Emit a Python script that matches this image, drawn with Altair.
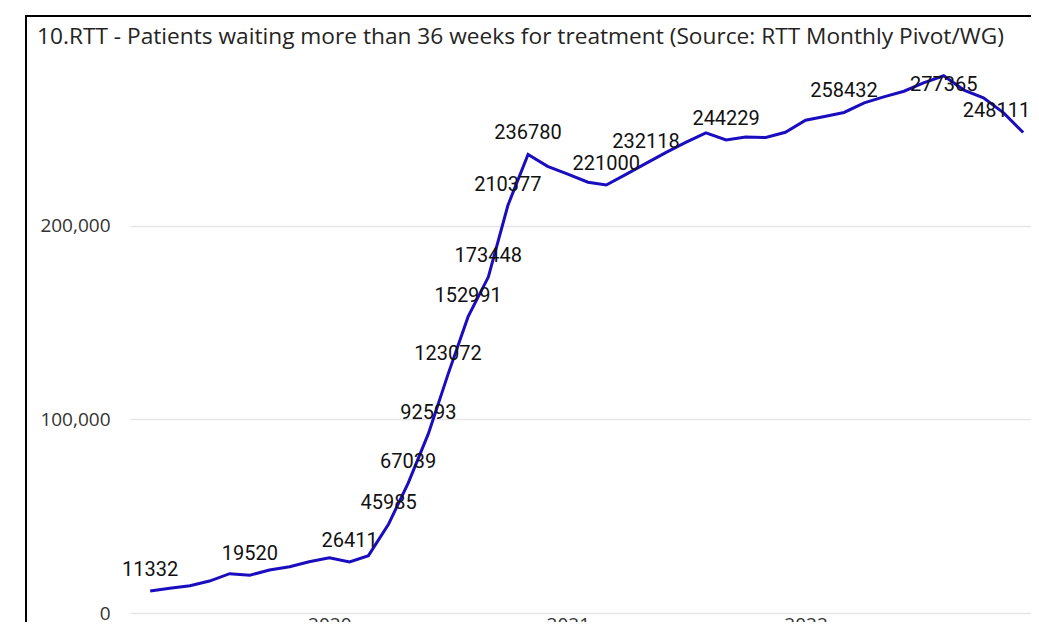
import altair as alt
import pandas as pd

title_text = "10.RTT - Patients waiting more than 36 weeks for treatment (Source: RTT Monthly Pivot/WG)"

months = [
    "2019-04", "2019-05", "2019-06", "2019-07", "2019-08", "2019-09", "2019-10", "2019-11", "2019-12",
    "2020-01", "2020-02", "2020-03", "2020-04", "2020-05", "2020-06", "2020-07", "2020-08", "2020-09",
    "2020-10", "2020-11", "2020-12",
    "2021-01", "2021-02", "2021-03", "2021-04", "2021-05", "2021-06", "2021-07", "2021-08", "2021-09",
    "2021-10", "2021-11", "2021-12",
    "2022-01", "2022-02", "2022-03", "2022-04", "2022-05", "2022-06", "2022-07", "2022-08", "2022-09",
    "2022-10", "2022-11", "2022-12",
]
values = [
    11332, 12800, 14100, 16500, 20300, 19520, 22200, 23900, 26500,
    28500, 26411, 29600, 45985, 67039, 92593, 123072, 152991, 173448,
    210377, 236780, 230600,
    226600, 222400, 221000, 226600, 232118, 237800, 243000, 247900, 244229,
    245800, 245500, 248200,
    254400, 256500, 258432, 263400, 266500, 269400, 273700, 277365, 270000,
    266000, 258200, 248111,
]
labelled_months = [
    "2019-04", "2019-09", "2020-02", "2020-04", "2020-05", "2020-06", "2020-07", "2020-08",
    "2020-09", "2020-10", "2020-11", "2021-03", "2021-05", "2021-09", "2022-03",
]
peak_labelled_month = "2022-08"
last_labelled_month = "2022-12"
year_ticks = [2020, 2021, 2022]
y_ticks = [0, 100000, 200000]

df = pd.DataFrame({"date": [m + "-01" for m in months], "value": values, "month": months})
df_lab = df[df["month"].isin(labelled_months)]
df_peak = df[df["month"] == peak_labelled_month]
df_last = df[df["month"] == last_labelled_month]

FONT = "Open Sans"
LINE_COLOR = "#1A0DBF"
LABEL_COLOR = "#111111"

x_scale = alt.Scale(
    type="utc",
    domain=[alt.DateTime(year=2019, month=3, date=1, utc=True),
            alt.DateTime(year=2022, month=12, date=13, utc=True)],
)
y_scale = alt.Scale(domain=[0, 285000], nice=False)

x_axis = alt.Axis(
    values=[alt.DateTime(year=y, month=1, date=1, utc=True) for y in year_ticks],
    format="%Y", formatType="utc", title=None, domain=False, ticks=False, grid=False,
    labelPadding=2, labelFont=FONT, labelFontSize=19, labelColor="#333333",
)
y_axis = alt.Axis(
    values=y_ticks, format=",.0f", title=None, domain=False, ticks=False,
    labelPadding=20, labelFont=FONT, labelFontSize=19, labelColor="#333333",
    gridColor="#E6E6E6", gridWidth=1.5,
)

line = alt.Chart(df).mark_line(color=LINE_COLOR, strokeWidth=3).encode(
    x=alt.X("date:T", scale=x_scale, axis=x_axis),
    y=alt.Y("value:Q", scale=y_scale, axis=y_axis),
)


def label_layer(data, **kw):
    return alt.Chart(data).mark_text(
        font="Roboto", fontSize=20, color=LABEL_COLOR, baseline="alphabetic", **kw
    ).encode(
        x=alt.X("date:T", scale=x_scale),
        y=alt.Y("value:Q", scale=y_scale),
        text=alt.Text("value:Q", format="d"),
    )


labels = label_layer(df_lab, align="center", dy=-15)
peak_label = label_layer(df_peak, align="center", dy=15)
last_label = label_layer(df_last, align="right", dx=7, dy=-15)

one = alt.Data(values=[{"a": 1}])
# card frame: a top bar and a left bar (filled thin rects)
frame_top = alt.Chart(one).mark_rect(color="#000000").encode(
    x=alt.value(-105), x2=alt.value(901), y=alt.value(-46), y2=alt.value(-44)
)
frame_left = alt.Chart(one).mark_rect(color="#000000").encode(
    x=alt.value(-105), x2=alt.value(-103), y=alt.value(-46), y2=alt.value(561)
)
title = alt.Chart(one).mark_text(
    align="left", baseline="alphabetic", font=FONT, fontSize=22.7, color="#252423", text=title_text
).encode(x=alt.value(-93), y=alt.value(-17))

chart = alt.layer(line, labels, peak_label, last_label, frame_top, frame_left, title).properties(
    width=901, height=552,
    padding={"left": 122, "top": 53, "right": 0, "bottom": 9},
    autosize=alt.AutoSizeParams(type="none"),
).configure_view(stroke=None)

chart.save("out.html", embed_options={"renderer": "svg", "actions": False})
